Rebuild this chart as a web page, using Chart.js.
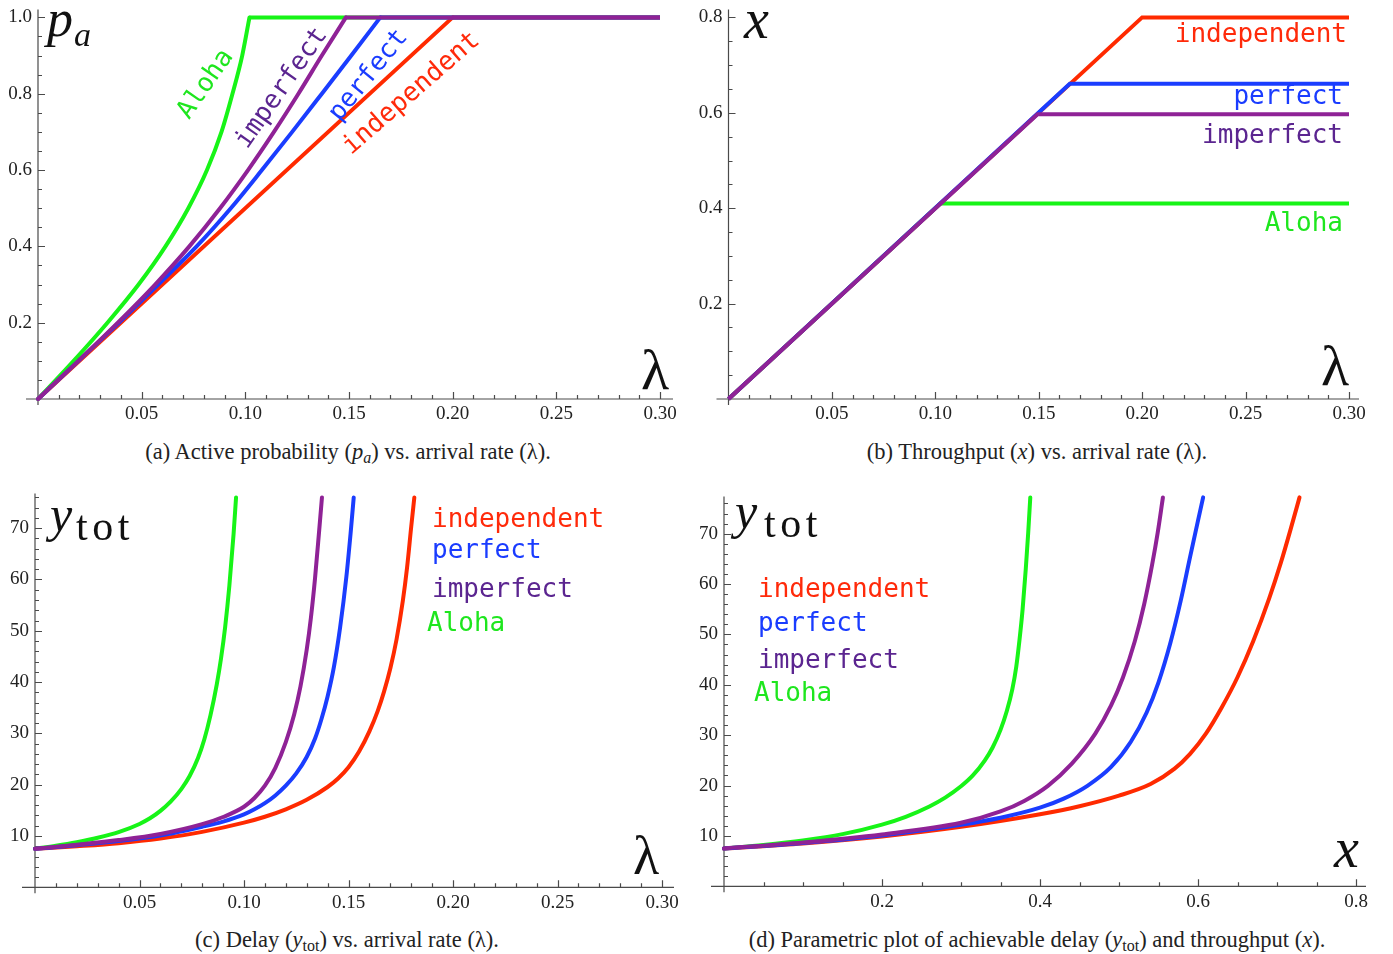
<!DOCTYPE html>
<html>
<head>
<meta charset="utf-8">
<script src="https://cdn.jsdelivr.net/npm/chart.js@4.4.1/dist/chart.umd.min.js"></script>
<style>
  body { margin: 0; background: #fff; width: 1393px; height: 954px; position: relative; overflow: hidden; font-family: 'Liberation Serif', serif; }
  .panel { position: absolute; }
  .cap { position: absolute; font-size: 22.5px; color: #222; white-space: nowrap; line-height: 1; transform: translateX(-50%); }
  .cap sub { font-size: 16px; vertical-align: -4px; line-height: 0; }
  .mono { position: absolute; font-family: 'DejaVu Sans Mono', monospace; font-size: 26px; white-space: nowrap; line-height: 1; }
  .big { position: absolute; font-family: 'Liberation Serif', serif; color: #111; line-height: 1; white-space: nowrap; }
  .rot { transform: translate(-50%, -50%) rotate(var(--a)); }
</style>
</head>
<body>

<canvas id="chartA" class="panel" style="left:0;top:0" width="690" height="435"></canvas>
<canvas id="chartB" class="panel" style="left:690px;top:0" width="703" height="435"></canvas>
<canvas id="chartC" class="panel" style="left:0;top:480px" width="690" height="440"></canvas>
<canvas id="chartD" class="panel" style="left:690px;top:480px" width="703" height="440"></canvas>

<!-- axis symbols -->
<div class="big" style="left:47px;top:-7px;font-size:52px;font-style:italic">p</div>
<div class="big" style="left:74px;top:18px;font-size:34px;font-style:italic">a</div>
<div class="big" style="left:641px;top:341px;font-size:58px">λ</div>

<div class="big" style="left:744px;top:-9px;font-size:56px;font-style:italic">x</div>
<div class="big" style="left:1321px;top:337px;font-size:58px">λ</div>

<div class="big" style="left:50px;top:489px;font-size:50px;font-style:italic">y</div>
<div class="big" style="left:76px;top:505px;font-size:42px;letter-spacing:4.5px">tot</div>
<div class="big" style="left:633px;top:829px;font-size:54px">λ</div>

<div class="big" style="left:735px;top:486px;font-size:50px;font-style:italic">y</div>
<div class="big" style="left:764px;top:502px;font-size:42px;letter-spacing:4.5px">tot</div>
<div class="big" style="left:1334px;top:820px;font-size:56px;font-style:italic">x</div>

<!-- curve labels (a) -->
<div class="mono rot" style="left:204px;top:83px;--a:-55deg;color:#1ee61e">Aloha</div>
<div class="mono rot" style="left:280px;top:87px;--a:-55deg;color:#5b2590">imperfect</div>
<div class="mono rot" style="left:367px;top:74px;--a:-51deg;color:#1a3cff">perfect</div>
<div class="mono rot" style="left:410px;top:92px;--a:-41deg;color:#ff2a0a">independent</div>

<!-- curve labels (b) -->
<div class="mono" style="right:46px;top:20px;color:#ff2a0a">independent</div>
<div class="mono" style="right:50px;top:82px;color:#1a3cff">perfect</div>
<div class="mono" style="right:50px;top:121px;color:#5b2590">imperfect</div>
<div class="mono" style="right:50px;top:209px;color:#1ee61e">Aloha</div>

<!-- curve labels (c) -->
<div class="mono" style="left:432px;top:505px;color:#ff2a0a">independent</div>
<div class="mono" style="left:432px;top:536px;color:#1a3cff">perfect</div>
<div class="mono" style="left:432px;top:575px;color:#5b2590">imperfect</div>
<div class="mono" style="left:427px;top:609px;color:#1ee61e">Aloha</div>

<!-- curve labels (d) -->
<div class="mono" style="left:758px;top:575px;color:#ff2a0a">independent</div>
<div class="mono" style="left:758px;top:609px;color:#1a3cff">perfect</div>
<div class="mono" style="left:758px;top:646px;color:#5b2590">imperfect</div>
<div class="mono" style="left:754px;top:679px;color:#1ee61e">Aloha</div>

<!-- captions -->
<div class="cap" style="left:348px;top:441px">(a) Active probability (<i>p<sub>a</sub></i>) vs. arrival rate (λ).</div>
<div class="cap" style="left:1037px;top:441px">(b) Throughput (<i>x</i>) vs. arrival rate (λ).</div>
<div class="cap" style="left:347px;top:929px">(c) Delay (<i>y</i><sub>tot</sub>) vs. arrival rate (λ).</div>
<div class="cap" style="left:1037px;top:929px">(d) Parametric plot of achievable delay (<i>y</i><sub>tot</sub>) and throughput (<i>x</i>).</div>

<script>
// Colours
const RED = '#ff2a00';
const BLUE = '#1a3dff';
const PURPLE = '#8f2296';
const GREEN = '#17f417';

// Tick labels
const lamTicks = [0.05, 0.10, 0.15, 0.20, 0.25, 0.30];
const lamTickLabels = ['0.05', '0.10', '0.15', '0.20', '0.25', '0.30'];
const probTicks = [0.2, 0.4, 0.6, 0.8, 1.0];
const probTickLabels = ['0.2', '0.4', '0.6', '0.8', '1.0'];
const thrTicks = [0.2, 0.4, 0.6, 0.8];
const thrTickLabels = ['0.2', '0.4', '0.6', '0.8'];
const delayTicks = [10, 20, 30, 40, 50, 60, 70];
const delayTickLabels = ['10', '20', '30', '40', '50', '60', '70'];

// (a) active probability vs arrival rate (rising part + saturated part)
const aRiseP = [0, 0.1, 0.2, 0.3, 0.4, 0.5, 0.6, 0.7, 0.8, 0.9, 1.0];
const aAlohaLam = [0, 0.0172, 0.0335, 0.0485, 0.0615, 0.0725, 0.0815, 0.0885, 0.0938, 0.0985, 0.102];
const aImperfLam = [0, 0.0195, 0.0385, 0.0565, 0.073, 0.0878, 0.1013, 0.1138, 0.1256, 0.1369, 0.1485];
const aPerfLam = [0, 0.0195, 0.039, 0.058, 0.0765, 0.093, 0.108, 0.1226, 0.1369, 0.1511, 0.1651];
const aIndepLam = [0, 0.20];
const aIndepP = [0, 1.0];
const aAlohaFlatLam = [0.102, 0.30];
const aImperfFlatLam = [0.1485, 0.30];
const aPerfFlatLam = [0.1651, 0.30];
const aIndepFlatLam = [0.20, 0.30];
const aFlatP = [1.0, 1.0];

// (b) throughput vs arrival rate
const bAlohaLam = [0, 0.1024, 0.30];
const bAlohaX = [0, 0.41, 0.41];
const bImperfLam = [0, 0.1494, 0.30];
const bImperfX = [0, 0.597, 0.597];
const bPerfLam = [0, 0.165, 0.30];
const bPerfX = [0, 0.661, 0.661];
const bIndepLam = [0, 0.20, 0.30];
const bIndepX = [0, 0.80, 0.80];

// (c) delay vs arrival rate
const cAlohaLam = [0, 0.01, 0.02, 0.03, 0.04, 0.05, 0.055, 0.06, 0.065, 0.07, 0.074, 0.078, 0.081, 0.084, 0.087, 0.089, 0.091, 0.093, 0.095, 0.0962];
const cAlohaY = [7.5, 8.1, 8.8, 9.65, 10.75, 12.35, 13.45, 14.9, 16.75, 19.15, 21.7, 25.2, 28.8, 33.6, 39.6, 44.6, 50.8, 58.8, 68.8, 76];
const cImperfLam = [0, 0.02, 0.04, 0.06, 0.08, 0.09, 0.1, 0.105, 0.11, 0.115, 0.12, 0.124, 0.127, 0.13, 0.132, 0.134, 0.136, 0.1373];
const cImperfY = [7.5, 8.3, 9.2, 10.4, 12.3, 13.7, 15.7, 17.4, 19.8, 23.3, 28.3, 33.7, 39.1, 46.3, 52.5, 60.3, 69.7, 76];
const cPerfLam = [0, 0.02, 0.04, 0.06, 0.08, 0.09, 0.1, 0.105, 0.11, 0.115, 0.12, 0.125, 0.13, 0.134, 0.137, 0.14, 0.143, 0.146, 0.149, 0.151, 0.1525];
const cPerfY = [7.5, 8.2, 9.0, 10.1, 11.8, 12.8, 14.2, 15.2, 16.4, 17.9, 19.8, 22.2, 25.4, 29.0, 32.7, 37.2, 42.9, 50.7, 60.6, 69, 76];
const cIndepLam = [0, 0.02, 0.04, 0.06, 0.08, 0.1, 0.11, 0.12, 0.13, 0.14, 0.145, 0.15, 0.155, 0.16, 0.164, 0.167, 0.17, 0.173, 0.176, 0.178, 0.18, 0.1815];
const cIndepY = [7.5, 8.0, 8.6, 9.5, 10.8, 12.6, 13.75, 15.2, 17.05, 19.55, 21.2, 23.4, 26.4, 30.4, 34.4, 38.15, 42.65, 48.35, 55.85, 62.25, 70.25, 76];

// (d) delay vs throughput
const dAlohaX = [0, 0.05, 0.1, 0.15, 0.2, 0.23, 0.26, 0.28, 0.3, 0.315, 0.33, 0.34, 0.35, 0.358, 0.365, 0.37, 0.374, 0.378, 0.382, 0.385, 0.3877];
const dAlohaY = [7.5, 8.2, 9.1, 10.35, 12.25, 13.8, 15.85, 17.6, 19.85, 22.0, 24.95, 27.55, 31.05, 34.8, 39.15, 43.65, 48.85, 55, 63, 70, 77.2];
const dImperfX = [0, 0.1, 0.2, 0.3, 0.35, 0.38, 0.41, 0.44, 0.47, 0.49, 0.505, 0.52, 0.532, 0.542, 0.549, 0.5556];
const dImperfY = [7.5, 8.7, 10.3, 12.6, 14.85, 16.95, 19.95, 24.3, 30.3, 35.9, 41.45, 48.65, 56.1, 63.9, 70.2, 77.2];
const dPerfX = [0, 0.1, 0.2, 0.3, 0.35, 0.4, 0.43, 0.46, 0.49, 0.515, 0.535, 0.55, 0.565, 0.578, 0.59, 0.6, 0.6065];
const dPerfY = [7.5, 8.6, 10.1, 12.2, 13.6, 15.6, 17.4, 19.95, 23.7, 28.7, 34.5, 40.5, 48.3, 56.6, 65.4, 72.6, 77.2];
const dIndepX = [0, 0.1, 0.2, 0.3, 0.4, 0.45, 0.5, 0.54, 0.57, 0.59, 0.61, 0.63, 0.65, 0.67, 0.69, 0.705, 0.718, 0.7285];
const dIndepY = [7.5, 8.5, 9.9, 11.8, 14.3, 15.9, 18.0, 20.3, 23.3, 26.3, 30.3, 35.5, 41.5, 48.7, 57.1, 64.3, 71.3, 77.2];

// Mathematica style axes: lines through the origin, ticks pointing inwards
const mmaAxes = {
    id: 'mmaAxes',
    beforeDatasetsDraw(chart, args, opts) {
        const { ctx, chartArea } = chart;
        const xs = chart.scales.x, ys = chart.scales.y;
        const x0 = xs.getPixelForValue(0);
        const y0 = ys.getPixelForValue(0);
        ctx.save();
        ctx.strokeStyle = '#4a4a4a';
        ctx.lineWidth = 1.2;
        ctx.beginPath();
        ctx.moveTo(chartArea.left - opts.ext[0], y0);
        ctx.lineTo(chartArea.right + opts.ext[1], y0);
        ctx.moveTo(x0, chartArea.top - opts.ext[2]);
        ctx.lineTo(x0, chartArea.bottom + opts.ext[3]);
        // x ticks
        for (let i = 1; i * opts.minorX <= xs.max + 1e-9; i++) {
            const px = Math.round(xs.getPixelForValue(i * opts.minorX)) + 0.5;
            const len = i % opts.perMajorX === 0 ? 7 : 4;
            ctx.moveTo(px, y0);
            ctx.lineTo(px, y0 - len);
        }
        // y ticks
        for (let i = 1; i * opts.minorY <= ys.max + 1e-9; i++) {
            const py = Math.round(ys.getPixelForValue(i * opts.minorY)) + 0.5;
            const len = i % opts.perMajorY === 0 ? 7 : 4;
            ctx.moveTo(x0, py);
            ctx.lineTo(x0 + len, py);
        }
        ctx.stroke();
        ctx.restore();
    }
};

function series(xs, ys, color, smooth) {
    return {
        data: xs.map((v, i) => ({ x: v, y: ys[i] })),
        borderColor: color,
        borderWidth: 4,
        borderCapStyle: smooth ? 'round' : 'butt',
        pointRadius: 0,
        fill: false,
        clip: false,
        tension: 0,
        cubicInterpolationMode: smooth ? 'monotone' : 'default'
    };
}

function makeChart(id, datasets, cfg) {
    const fontTick = { family: 'Liberation Serif', size: 19 };
    return new Chart(document.getElementById(id), {
        type: 'line',
        data: { datasets },
        plugins: [mmaAxes],
        options: {
            responsive: false,
            animation: false,
            events: [],
            layout: { padding: { left: 0, top: cfg.top, right: cfg.right, bottom: 0 } },
            plugins: {
                legend: { display: false },
                tooltip: { enabled: false },
                mmaAxes: cfg.axes
            },
            scales: {
                x: {
                    type: 'linear',
                    min: 0,
                    max: cfg.xMax,
                    grid: { display: false, drawTicks: false },
                    border: { display: false },
                    afterBuildTicks: s => { s.ticks = cfg.xTicks.map(v => ({ value: v })); },
                    afterFit: s => { s.height = cfg.xHeight; },
                    ticks: {
                        autoSkip: false, maxRotation: 0, padding: 4,
                        color: '#222', font: fontTick,
                        callback: (v, i) => cfg.xLabels[i]
                    }
                },
                y: {
                    type: 'linear',
                    min: 0,
                    max: cfg.yMax,
                    grid: { display: false, drawTicks: false },
                    border: { display: false },
                    afterBuildTicks: s => { s.ticks = cfg.yTicks.map(v => ({ value: v })); },
                    afterFit: s => { s.width = cfg.yWidth; },
                    ticks: {
                        autoSkip: false, padding: 6,
                        color: '#222', font: fontTick,
                        callback: (v, i) => cfg.yLabels[i]
                    }
                }
            }
        }
    });
}

// first dataset is drawn on top
makeChart('chartA', [
    series(aImperfFlatLam, aFlatP, PURPLE, false),
    series(aImperfLam, aRiseP, PURPLE, true),
    series(aPerfFlatLam, aFlatP, BLUE, false),
    series(aPerfLam, aRiseP, BLUE, true),
    series(aIndepFlatLam, aFlatP, RED, false),
    series(aIndepLam, aIndepP, RED, true),
    series(aAlohaFlatLam, aFlatP, GREEN, false),
    series(aAlohaLam, aRiseP, GREEN, true)
], {
    top: 15, right: 30, yWidth: 38, xHeight: 36,
    xMax: 0.30, yMax: 1.0,
    xTicks: lamTicks, xLabels: lamTickLabels,
    yTicks: probTicks, yLabels: probTickLabels,
    axes: { ext: [12, 13, 8, 6], minorX: 0.01, perMajorX: 5, minorY: 0.05, perMajorY: 4 }
});

makeChart('chartB', [
    series(bImperfLam, bImperfX, PURPLE, false),
    series(bPerfLam, bPerfX, BLUE, false),
    series(bIndepLam, bIndepX, RED, false),
    series(bAlohaLam, bAlohaX, GREEN, false)
], {
    top: 15, right: 44, yWidth: 38.5, xHeight: 36,
    xMax: 0.30, yMax: 0.8,
    xTicks: lamTicks, xLabels: lamTickLabels,
    yTicks: thrTicks, yLabels: thrTickLabels,
    axes: { ext: [12, 10, 8, 6], minorX: 0.01, perMajorX: 5, minorY: 0.05, perMajorY: 4 }
});

makeChart('chartC', [
    series(cImperfLam, cImperfY, PURPLE, true),
    series(cPerfLam, cPerfY, BLUE, true),
    series(cIndepLam, cIndepY, RED, true),
    series(cAlohaLam, cAlohaY, GREEN, true)
], {
    top: 17.2, right: 28, yWidth: 35, xHeight: 32.7,
    xMax: 0.30, yMax: 76,
    xTicks: lamTicks, xLabels: lamTickLabels,
    yTicks: delayTicks, yLabels: delayTickLabels,
    axes: { ext: [13, 12, 4, 6], minorX: 0.01, perMajorX: 5, minorY: 2, perMajorY: 5 }
});

makeChart('chartD', [
    series(dImperfX, dImperfY, PURPLE, true),
    series(dPerfX, dPerfY, BLUE, true),
    series(dIndepX, dIndepY, RED, true),
    series(dAlohaX, dAlohaY, GREEN, true)
], {
    top: 10, right: 37, yWidth: 34, xHeight: 33.7,
    xMax: 0.8, yMax: 77.2,
    xTicks: thrTicks, xLabels: thrTickLabels,
    yTicks: delayTicks, yLabels: delayTickLabels,
    axes: { ext: [13, 10, 1, 6], minorX: 0.05, perMajorX: 4, minorY: 2, perMajorY: 5 }
});
</script>
</body>
</html>
